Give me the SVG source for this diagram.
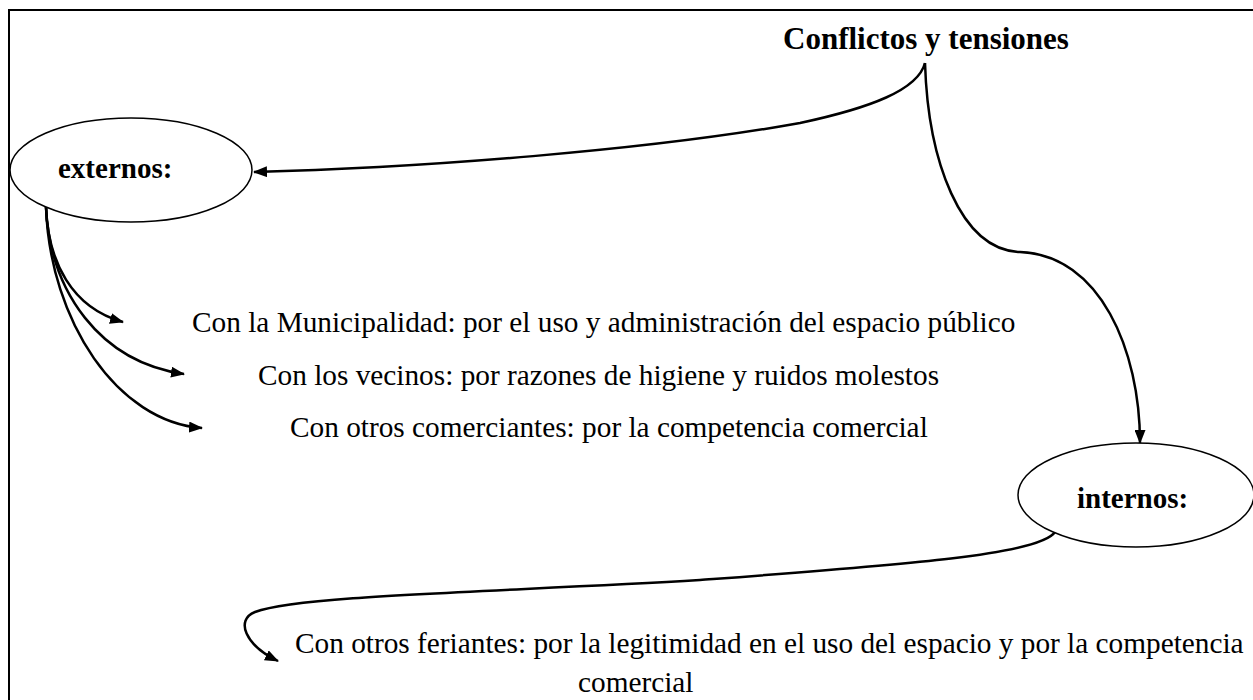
<svg xmlns="http://www.w3.org/2000/svg" width="1253" height="700" viewBox="0 0 1253 700">
<style>
.frame{fill:none;stroke:#000;stroke-width:2}
.node{fill:#fff;stroke:#000;stroke-width:1.5}
.b{font-family:"Liberation Serif","Times New Roman",serif;font-weight:bold;fill:#000}
.t{font-family:"Liberation Serif","Times New Roman",serif;font-size:29.3px;fill:#000}
.c{fill:none;stroke:#000;stroke-width:2.5}
</style>
<defs>
<marker id="ah" viewBox="0 0 14 11" refX="13" refY="5.5" markerWidth="14" markerHeight="11" markerUnits="userSpaceOnUse" orient="auto">
<path d="M0,0 L14,5.5 L0,11 Z" fill="#000"/>
</marker>
</defs>
<rect class="frame" x="9" y="10" width="1260" height="710"/>
<g id="connectors">
<path class="c" d="M925,63 C918,90 870,108 800,123 C650,150 420,168 254,172" marker-end="url(#ah)"/>
<path class="c" d="M925,63 C928,160 960,250 1020,252 C1100,255 1140,350 1140,443" marker-end="url(#ah)"/>
<path class="c" d="M46,207 C48,262 72,308 123,322" marker-end="url(#ah)"/>
<path class="c" d="M46,207 C50,292 100,362 184,374" marker-end="url(#ah)"/>
<path class="c" d="M46,207 C50,322 118,422 202,428" marker-end="url(#ah)"/>
<path class="c" d="M1055,532 C1040,555 900,565 700,580 C500,592 300,595 255,612 C235,620 245,645 278,661" marker-end="url(#ah)"/>
</g>
<g id="title">
<text class="b" x="783" y="49" font-size="31">Conflictos y tensiones</text>
</g>
<g id="externos">
<ellipse class="node" cx="131" cy="170" rx="121" ry="52"/>
<text class="b" x="58" y="178" font-size="29">externos:</text>
</g>
<g id="internos">
<ellipse class="node" cx="1136" cy="495" rx="118" ry="52"/>
<text class="b" x="1077" y="508" font-size="29">internos:</text>
</g>
<g id="ext1"><text class="t" x="192" y="332">Con la Municipalidad: por el uso y administración del espacio público</text></g>
<g id="ext2"><text class="t" x="258" y="385">Con los vecinos: por razones de higiene y ruidos molestos</text></g>
<g id="ext3"><text class="t" x="290" y="437">Con otros comerciantes: por la competencia comercial</text></g>
<g id="int1">
<text class="t" x="295" y="653">Con otros feriantes: por la legitimidad en el uso del espacio y por la competencia</text>
<text class="t" x="578" y="692">comercial</text>
</g>
</svg>
